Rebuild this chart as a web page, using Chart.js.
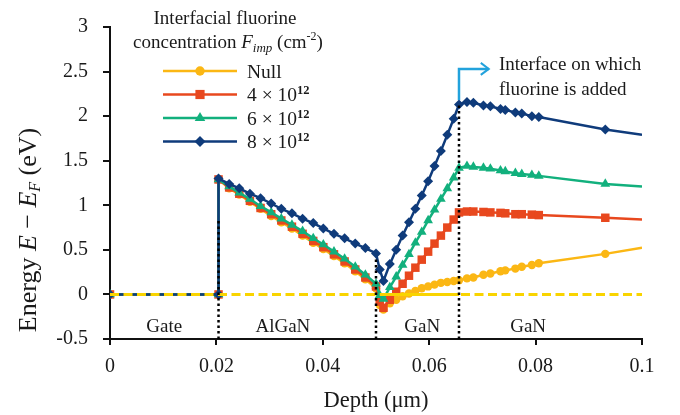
<!DOCTYPE html>
<html lang="en">
<head>
<meta charset="UTF-8">
<title>Energy band profile vs depth</title>
<script src="https://cdn.jsdelivr.net/npm/chart.js"></script>
<style>
    body { margin: 0; background: #fff; }
    #wrap { width: 680px; height: 415px; }
</style>
</head>
<body>
<div id="wrap"><canvas id="bandChart" width="680" height="415"></canvas></div>
<script>
// depth grid in um, shared by the four curves
const depth = [0, 0.0204,
    0.0204, 0.0224, 0.0243, 0.0263, 0.0283, 0.0303, 0.0322, 0.0342, 0.0362, 0.0382, 0.0401, 0.0421, 0.0441, 0.0461, 0.048, 0.05,
    0.0507, 0.0514,
    0.0526, 0.0538, 0.055, 0.0562, 0.0574, 0.0586, 0.0598, 0.061, 0.0622, 0.0634, 0.0646, 0.0656,
    0.0671, 0.0683, 0.0702, 0.0715, 0.0734, 0.0743, 0.0762, 0.0774, 0.0793, 0.0806, 0.0931, 0.1];

// E - Ef (eV) for each fluorine concentration
const eNull = [0, 0,
    1.29, 1.19, 1.12, 1.04, 0.96, 0.88, 0.81, 0.74, 0.66, 0.58, 0.51, 0.43, 0.35, 0.26, 0.17, 0.07,
    -0.12, -0.17,
    -0.1, -0.06, -0.02, 0.01, 0.04, 0.07, 0.09, 0.11, 0.13, 0.14, 0.15, 0.16,
    0.18, 0.19, 0.22, 0.235, 0.26, 0.27, 0.29, 0.31, 0.33, 0.35, 0.455, 0.525];
const e4 = [0, 0,
    1.29, 1.2, 1.13, 1.05, 0.97, 0.9, 0.83, 0.76, 0.68, 0.6, 0.53, 0.45, 0.37, 0.28, 0.19, 0.09,
    -0.08, -0.15,
    -0.06, 0.03, 0.12, 0.21, 0.3, 0.39, 0.48, 0.57, 0.66, 0.75, 0.84, 0.92,
    0.93, 0.93, 0.925, 0.92, 0.915, 0.91, 0.9, 0.9, 0.895, 0.89, 0.86, 0.84];
const e6 = [0, 0,
    1.29, 1.21, 1.14, 1.07, 0.99, 0.92, 0.85, 0.78, 0.71, 0.63, 0.56, 0.48, 0.4, 0.31, 0.22, 0.12,
    -0.01, -0.05,
    0.08, 0.2, 0.33, 0.45, 0.58, 0.7, 0.83, 0.95, 1.07, 1.19, 1.31, 1.42,
    1.44, 1.43, 1.42, 1.41, 1.39, 1.38, 1.36, 1.35, 1.34, 1.33, 1.24, 1.21];
const e8 = [0, 0,
    1.3, 1.24, 1.19, 1.13, 1.08, 1.02, 0.96, 0.91, 0.85, 0.8, 0.74, 0.68, 0.63, 0.57, 0.52, 0.46,
    0.28, 0.15,
    0.34, 0.5, 0.66, 0.81, 0.96, 1.11, 1.27, 1.44, 1.61, 1.79, 1.97, 2.13,
    2.16, 2.15, 2.12, 2.11, 2.08, 2.07, 2.04, 2.03, 2.0, 1.99, 1.85, 1.79];

// Fermi level line
const fermiDepth = [0, 0.1];
const fermiLevel = [0, 0];
const fermiSolidDepth = [0.0507, 0.0656];

const legendNames = ['Null', '4 × 10', '6 × 10', '8 × 10'];
const legendExp = ['', '12', '12', '12'];

// layer boundaries and labels
const boundaryDepth = [0.0204, 0.05, 0.0656];
const boundaryTop = [0.85, 0.4, 2.13];
const layerNames = ['Gate', 'AlGaN', 'GaN', 'GaN'];
const layerDepth = [0.0102, 0.0325, 0.0587, 0.0786];
const layerLabelY = -0.37;

const xTicks = [0, 0.02, 0.04, 0.06, 0.08, 0.1];

const SERIF = '"Liberation Serif", "Times New Roman", serif';
const colNull = '#fbb714', col4 = '#e8481e', col6 = '#12b07d', col8 = '#0f3b7b';
const colFermi = '#f9d400', colArrow = '#22a2dc';

function pts(xs, ys) {
    return xs.map((x, i) => ({ x: x, y: ys[i] }));
}

function series(label, vals, color, style, r) {
    return {
        label: label,
        data: pts(depth, vals),
        borderColor: color,
        backgroundColor: color,
        borderWidth: 2.5,
        pointStyle: style,
        pointRadius: c => c.dataIndex === depth.length - 1 ? 0 : r,
        pointBorderWidth: 0,
        markerSize: r,
        tension: 0
    };
}

// draw a list of text runs: {t, size, it, bold, dy}
function runs(ctx, list, x, y, align) {
    const f = r => (r.it ? 'italic ' : '') + (r.bold ? 'bold ' : '') + r.size + 'px ' + SERIF;
    let w = 0;
    list.forEach(r => { ctx.font = f(r); w += ctx.measureText(r.t).width; });
    let cx = align === 'center' ? x - w / 2 : x;
    list.forEach(r => {
        ctx.font = f(r);
        ctx.fillText(r.t, cx, y + (r.dy || 0));
        cx += ctx.measureText(r.t).width;
    });
}

const extras = {
    id: 'extras',
    afterDatasetsDraw(chart) {
        const ctx = chart.ctx;
        const xs = chart.scales.x, ys = chart.scales.y;
        ctx.save();

        // dotted layer boundaries
        ctx.strokeStyle = '#000';
        ctx.lineWidth = 2.5;
        ctx.setLineDash([2.5, 3]);
        boundaryDepth.forEach((d, i) => {
            const px = xs.getPixelForValue(d);
            ctx.beginPath();
            ctx.moveTo(px, ys.getPixelForValue(-0.5));
            ctx.lineTo(px, ys.getPixelForValue(boundaryTop[i]));
            ctx.stroke();
        });
        ctx.setLineDash([]);

        // arrow to the interface note
        const ax = xs.getPixelForValue(0.0656);
        const ay = ys.getPixelForValue(2.53);
        const aend = xs.getPixelForValue(0.0712);
        ctx.strokeStyle = colArrow;
        ctx.lineWidth = 2.5;
        ctx.beginPath();
        ctx.moveTo(ax, ys.getPixelForValue(2.18));
        ctx.lineTo(ax, ay);
        ctx.lineTo(aend, ay);
        ctx.stroke();
        ctx.lineWidth = 2;
        ctx.beginPath();
        ctx.moveTo(aend - 8, ay - 6);
        ctx.lineTo(aend, ay);
        ctx.lineTo(aend - 8, ay + 6);
        ctx.stroke();

        ctx.fillStyle = '#1a1a1a';
        ctx.textBaseline = 'middle';
        ctx.textAlign = 'left';
        ctx.font = '19px ' + SERIF;
        ctx.fillText('Interface on which', xs.getPixelForValue(0.0731), ys.getPixelForValue(2.57));
        ctx.fillText('fluorine is added', xs.getPixelForValue(0.0731), ys.getPixelForValue(2.29));

        // layer names
        ctx.textAlign = 'center';
        layerNames.forEach((n, i) => {
            ctx.fillText(n, xs.getPixelForValue(layerDepth[i]), ys.getPixelForValue(layerLabelY));
        });

        // legend
        ctx.textAlign = 'left';
        ctx.textBaseline = 'alphabetic';
        runs(ctx, [{ t: 'Interfacial fluorine', size: 19 }], 225, 24, 'center');
        runs(ctx, [
            { t: 'concentration ', size: 19 },
            { t: 'F', size: 19, it: true },
            { t: 'imp', size: 13, it: true, dy: 4 },
            { t: ' (cm', size: 19 },
            { t: '-2', size: 12, dy: -8 },
            { t: ')', size: 19 }
        ], 228, 48, 'center');
        const order = [5, 4, 3, 2]; // dataset index for Null, 4, 6, 8
        legendNames.forEach((n, i) => {
            const ds = chart.data.datasets[order[i]];
            const y = 71 + i * 23.5;
            ctx.strokeStyle = ds.borderColor;
            ctx.fillStyle = ds.borderColor;
            ctx.lineWidth = 2.5;
            ctx.beginPath();
            ctx.moveTo(163, y);
            ctx.lineTo(237, y);
            ctx.stroke();
            Chart.helpers.drawPoint(ctx, { pointStyle: ds.pointStyle, radius: ds.markerSize + 0.5, rotation: 0, borderWidth: 0 }, 200, y);
            ctx.fillStyle = '#1a1a1a';
            const list = [{ t: n, size: 19.5 }];
            if (legendExp[i]) list.push({ t: legendExp[i], size: 12.5, bold: true, dy: -7 });
            runs(ctx, list, 247, y + 6.5, 'left');
        });

        ctx.restore();
    },
    afterDraw(chart) {
        const ctx = chart.ctx;
        ctx.save();
        ctx.fillStyle = '#1a1a1a';
        ctx.textBaseline = 'alphabetic';
        runs(ctx, [{ t: 'Depth (μm)', size: 22.5 }], (chart.chartArea.left + chart.chartArea.right) / 2, 407, 'center');
        ctx.translate(36, 230);
        ctx.rotate(-Math.PI / 2);
        runs(ctx, [
            { t: 'Energy ', size: 26 },
            { t: 'E', size: 26, it: true },
            { t: ' − ', size: 26 },
            { t: 'E', size: 26, it: true },
            { t: 'F', size: 16, it: true, dy: 4 },
            { t: ' (eV)', size: 26 }
        ], 0, 0, 'center');
        ctx.restore();
    }
};

const dsNull = series('Null', eNull, colNull, 'circle', 4.2);
const ds4 = series('4 × 10¹²', e4, col4, 'rect', 6);
const ds6 = series('6 × 10¹²', e6, col6, 'triangle', 5.6);
const ds8 = series('8 × 10¹²', e8, col8, 'rectRot', 5);

const fermiDashed = {
    label: 'Ef',
    data: pts(fermiDepth, fermiLevel),
    borderColor: colFermi,
    borderWidth: 3,
    borderDash: [9, 4.5],
    pointRadius: 0
};
const fermiSolid = {
    label: 'Ef solid',
    data: pts(fermiSolidDepth, fermiLevel),
    borderColor: colFermi,
    borderWidth: 3,
    pointRadius: 0
};

const axisGrid = {
    drawOnChartArea: false,
    drawTicks: true,
    color: '#111',
    lineWidth: 2
};

const chart = new Chart(document.getElementById('bandChart').getContext('2d'), {
    type: 'line',
    data: {
        // first dataset is drawn on top
        datasets: [fermiDashed, fermiSolid, ds8, ds6, ds4, dsNull]
    },
    options: {
        responsive: false,
        animation: false,
        layout: { padding: { left: 30, right: 38, top: 12, bottom: 0 } },
        plugins: {
            legend: { display: false },
            tooltip: { enabled: false }
        },
        scales: {
            x: {
                type: 'linear',
                min: 0,
                max: 0.1,
                afterBuildTicks: s => { s.ticks = xTicks.map(v => ({ value: v })); },
                grid: Object.assign({ tickLength: 6 }, axisGrid),
                border: { display: true, color: '#111', width: 2 },
                ticks: {
                    color: '#1a1a1a',
                    padding: 10,
                    maxRotation: 0,
                    font: { family: SERIF, size: 20 },
                    callback: v => String(Number(v.toFixed(2)))
                },
                afterFit: s => { s.height = 76; }
            },
            y: {
                min: -0.5,
                max: 3,
                grid: Object.assign({ tickLength: 7 }, axisGrid),
                border: { display: true, color: '#111', width: 2 },
                ticks: {
                    stepSize: 0.5,
                    color: '#1a1a1a',
                    padding: 15,
                    font: { family: SERIF, size: 20 },
                    callback: v => String(v)
                },
                afterFit: s => { s.width = 80; }
            }
        }
    },
    plugins: [extras]
});
</script>
</body>
</html>
